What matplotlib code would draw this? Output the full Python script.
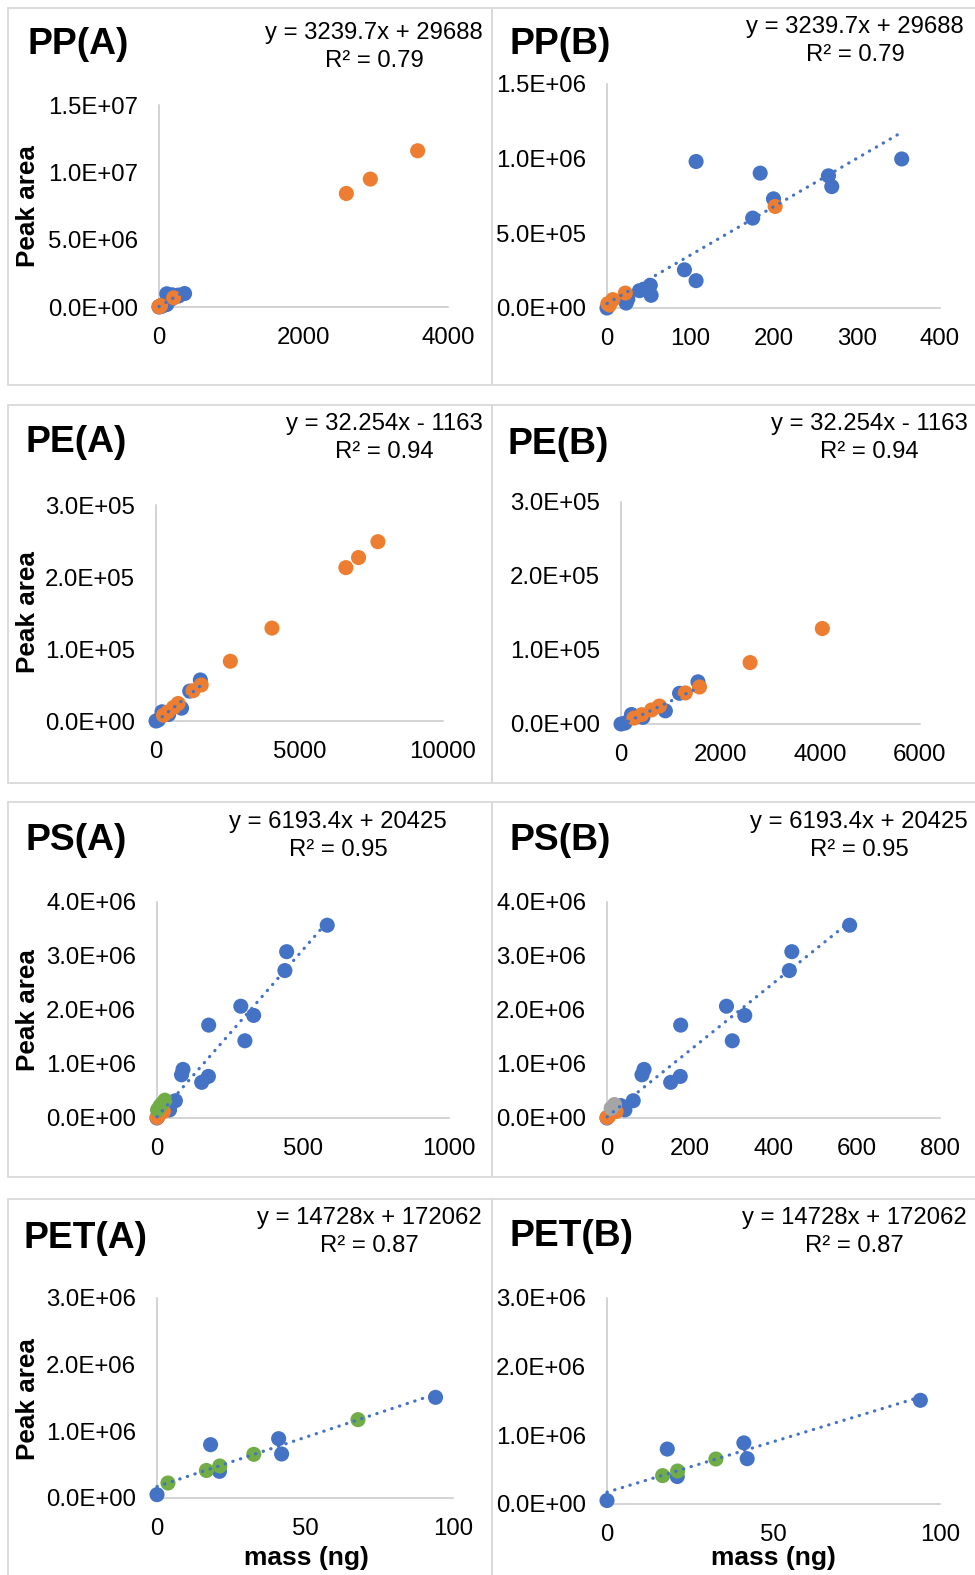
import numpy as np
import matplotlib
matplotlib.use("Agg")
import matplotlib.pyplot as plt
from matplotlib.patches import Rectangle
from matplotlib.ticker import FuncFormatter

plt.rcParams['font.family'] = ['Liberation Sans', 'DejaVu Sans']

BLUE = '#4472C4'
ORANGE = '#ED7D31'
GRAY = '#A5A5A5'
GREEN = '#70AD47'

# PP calibration points (mass in ng, peak area)
pp_blue_x = [0, 23, 25, 39, 47, 52, 53, 93, 107, 107, 175, 184, 200, 266, 270, 354]
pp_blue_y = [0.0, 0.033e6, 0.06e6, 0.116e6, 0.13e6, 0.152e6, 0.085e6, 0.256e6, 0.183e6,
             0.981e6, 0.602e6, 0.903e6, 0.731e6, 0.885e6, 0.813e6, 0.998e6]
pp_orange_x = [1, 3, 7, 22, 202, 2593, 2925, 3580]
pp_orange_y = [0.029e6, 0.02e6, 0.056e6, 0.10e6, 0.68e6, 8.43e6, 9.50e6, 11.6e6]
pp_fit = (3239.7, 29688, 'y = 3239.7x + 29688', 'R² = 0.79')

# PE
pe_blue_x = [0, 80, 210, 440, 890, 1175, 1545]
pe_blue_y = [0, 1.3e3, 12.8e3, 9e3, 17.8e3, 41.5e3, 57e3]
pe_orange_x = [260, 414, 614, 770, 1290, 1575, 2590, 4040, 6616, 7058, 7733]
pe_orange_y = [8e3, 12.6e3, 19e3, 24.3e3, 42e3, 50e3, 83e3, 129e3, 213e3, 227e3, 249e3]
pe_fit = (32.254, -1163, 'y = 32.254x - 1163', 'R² = 0.94')

# PS
ps_blue_x = [0, 33, 43, 63, 84, 89, 153, 176, 177, 287, 301, 331, 438, 444, 583]
ps_blue_y = [0, 0.23e6, 0.15e6, 0.32e6, 0.80e6, 0.90e6, 0.66e6, 0.77e6, 1.72e6,
             2.07e6, 1.43e6, 1.90e6, 2.73e6, 3.08e6, 3.57e6]
ps_orange_x = [0, 4, 22]
ps_orange_y = [0.01e6, 0.03e6, 0.12e6]
ps_green_x = [2, 10, 18, 27]
ps_green_y = [0.15e6, 0.22e6, 0.27e6, 0.33e6]
ps_gray_x = [10, 18]
ps_gray_y = [0.18e6, 0.25e6]
ps_fit = (6193.4, 20425, 'y = 6193.4x + 20425', 'R² = 0.95')

# PET
pet_blue_x = [0, 18.1, 21.1, 41.1, 42.1, 94.1]
pet_blue_y = [0.05e6, 0.80e6, 0.40e6, 0.89e6, 0.66e6, 1.51e6]
pet_green_x = [3.7, 16.7, 21.2, 32.7, 67.9]
pet_green_y = [0.225e6, 0.413e6, 0.48e6, 0.655e6, 1.175e6]
pet_green_b_x = [16.7, 21.2, 32.7]
pet_green_b_y = [0.413e6, 0.48e6, 0.655e6]
pet_fit = (14728, 172062, 'y = 14728x + 172062', 'R² = 0.87')

W, H = 975, 1575
fig = plt.figure(figsize=(W / 100, H / 100), dpi=100)


def fx(x):
    return x / W


def fy(y):
    return 1 - y / H


# panel frames (left, top, right, bottom in pixels)
frames = [(8, 8, 492, 385), (492, 8, 985, 385),
          (8, 405, 492, 783), (492, 405, 985, 783),
          (8, 802, 492, 1177), (492, 802, 985, 1177),
          (8, 1199, 492, 1590), (492, 1199, 985, 1590)]
for l, t, r, b in frames:
    fig.patches.append(Rectangle((fx(l), fy(b)), fx(r - l), (b - t) / H,
                                 transform=fig.transFigure, fill=False,
                                 edgecolor='#D9D9D9', linewidth=1.3))

sci = FuncFormatter(lambda v, p: f'{v:.1E}')

panels = [
    dict(title='PP(A)', box=(159, 448, 307, 105), xmax=4000, xstep=2000, ymax=1.5e7, ystep=5e6,
         series=[(pp_blue_x, pp_blue_y, BLUE), (pp_orange_x, pp_orange_y, ORANGE)],
         fit=pp_fit, fitx=pp_blue_x, title_pos=(28, 45), eq_pos=(374, 33), ylabel=206),
    dict(title='PP(B)', box=(607, 940, 308, 84), xmax=400, xstep=100, ymax=1.5e6, ystep=5e5,
         series=[(pp_blue_x, pp_blue_y, BLUE), (pp_orange_x, pp_orange_y, ORANGE)],
         fit=pp_fit, fitx=pp_blue_x, title_pos=(509, 45), eq_pos=(855, 27)),
    dict(title='PE(A)', box=(156, 443, 721, 505), xmax=10000, xstep=5000, ymax=3e5, ystep=1e5,
         series=[(pe_blue_x, pe_blue_y, BLUE), (pe_orange_x, pe_orange_y, ORANGE)],
         fit=pe_fit, fitx=pe_blue_x, title_pos=(26, 443), eq_pos=(384, 424), ylabel=612),
    dict(title='PE(B)', box=(621, 920, 724, 502), xmax=6000, xstep=2000, ymax=3e5, ystep=1e5,
         series=[(pe_blue_x, pe_blue_y, BLUE), (pe_orange_x, pe_orange_y, ORANGE)],
         fit=pe_fit, fitx=pe_blue_x, title_pos=(507, 445), eq_pos=(869, 424)),
    dict(title='PS(A)', box=(157, 449, 1118, 902), xmax=1000, xstep=500, ymax=4e6, ystep=1e6,
         series=[(ps_blue_x, ps_blue_y, BLUE), (ps_orange_x, ps_orange_y, ORANGE),
                 (ps_green_x, ps_green_y, GREEN)],
         fit=ps_fit, fitx=ps_blue_x, title_pos=(26, 841), eq_pos=(338, 822), ylabel=1010),
    dict(title='PS(B)', box=(607, 940, 1118, 902), xmax=800, xstep=200, ymax=4e6, ystep=1e6,
         series=[(ps_blue_x, ps_blue_y, BLUE), (ps_orange_x, ps_orange_y, ORANGE),
                 (ps_gray_x, ps_gray_y, GRAY)],
         fit=ps_fit, fitx=ps_blue_x, title_pos=(510, 841), eq_pos=(859, 822)),
    dict(title='PET(A)', box=(157, 453, 1498, 1298), xmax=100, xstep=50, ymax=3e6, ystep=1e6,
         series=[(pet_blue_x, pet_blue_y, BLUE), (pet_green_x, pet_green_y, GREEN)],
         fit=pet_fit, fitx=pet_blue_x, title_pos=(24, 1238), eq_pos=(369, 1218), ylabel=1399,
         xlabel=306),
    dict(title='PET(B)', box=(607, 940, 1504, 1298), xmax=100, xstep=50, ymax=3e6, ystep=1e6,
         series=[(pet_blue_x, pet_blue_y, BLUE), (pet_green_b_x, pet_green_b_y, GREEN)],
         fit=pet_fit, fitx=pet_blue_x, title_pos=(509, 1236), eq_pos=(854, 1218), xlabel=773),
]

for p in panels:
    x0, x1, y0, y1 = p['box']
    ax = fig.add_axes([fx(x0), fy(y0), (x1 - x0) / W, (y0 - y1) / H])
    ax.set_xlim(0, p['xmax'])
    ax.set_ylim(0, p['ymax'])
    ax.set_xticks(np.arange(0, p['xmax'] + 1, p['xstep']))
    ax.set_yticks(np.arange(0, p['ymax'] * 1.001, p['ystep']))
    ax.yaxis.set_major_formatter(sci)
    ax.tick_params(length=0, labelsize=17.3, colors='#000000')
    ax.tick_params(axis='y', pad=15)
    ax.tick_params(axis='x', pad=14.5)
    for s in ['top', 'right']:
        ax.spines[s].set_visible(False)
    for s in ['left', 'bottom']:
        ax.spines[s].set_color('#C8C8C8')
        ax.spines[s].set_linewidth(1.1)
    ax.patch.set_alpha(0)

    for xs, ys, c in p['series']:
        xs = np.asarray(xs, float)
        ys = np.asarray(ys, float)
        keep = (xs <= p['xmax']) & (ys <= p['ymax'])
        ax.scatter(xs[keep], ys[keep], s=118, color=c, edgecolors='none',
                   clip_on=False, zorder=3)

    slope, icpt, eq, r2 = p['fit']
    tx = np.array([min(p['fitx']), max(p['fitx'])], float)
    ax.plot(tx, slope * tx + icpt, color=BLUE, linewidth=2.3,
            linestyle=(0, (0.1, 2.4)), dash_capstyle='round', clip_on=False, zorder=4)

    tpx, tpy = p['title_pos']
    fig.text(fx(tpx), fy(tpy), p['title'], fontsize=26.8, fontweight='bold',
             ha='left', va='center')
    ex, ey = p['eq_pos']
    fig.text(fx(ex), fy(ey), eq, fontsize=17.2, ha='center', va='center')
    fig.text(fx(ex), fy(ey + 28), r2, fontsize=17.2, ha='center', va='center')
    if 'ylabel' in p:
        fig.text(fx(28), fy(p['ylabel']), 'Peak area', fontsize=18.8, fontweight='bold',
                 rotation=90, ha='center', va='center')
    if 'xlabel' in p:
        fig.text(fx(p['xlabel']), fy(1558), 'mass (ng)', fontsize=19, fontweight='bold',
                 ha='center', va='center')

fig.savefig('out.png', dpi=100, facecolor='white')
